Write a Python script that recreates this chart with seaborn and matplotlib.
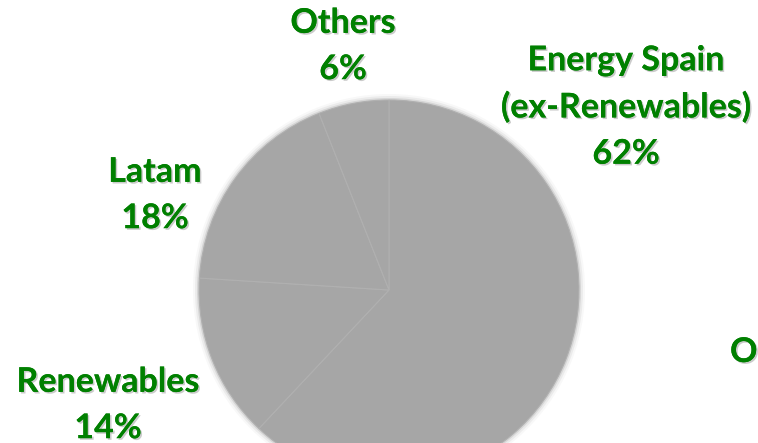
import matplotlib
matplotlib.use("Agg")
import matplotlib.pyplot as plt
import matplotlib.patheffects as pe
import seaborn as sns

categories = ["Energy Spain\n(ex-Renewables)", "Renewables", "Latam", "Others"]
shares = [62, 14, 18, 6]
label_text = ["Energy Spain\n(ex-Renewables)\n62%", "Renewables\n14%", "Latam\n18%", "Others\n6%"]

sns.set_theme(style="white")
plt.rcParams['font.family'] = ['Lato', 'DejaVu Sans']

fig = plt.figure(figsize=(7.58, 4.43), dpi=100)
ax = fig.add_axes([0, 0, 1, 1])

cx, cy, r = 389, 443 - 290, 190
gray = "#A6A6A6"

# soft blurred rim
for d, a in [(6, 0.08), (4, 0.15), (2, 0.3)]:
    ax.pie(shares, radius=r + d, center=(cx, cy), startangle=90, counterclock=False,
           colors=[gray] * len(shares), wedgeprops=dict(linewidth=0, alpha=a), frame=True)
ax.pie(shares, radius=r, center=(cx, cy), startangle=90, counterclock=False,
       colors=[gray] * len(shares),
       wedgeprops=dict(linewidth=0.8, edgecolor="#B0B0B0"), frame=True)
ax.set_xlim(0, 758)
ax.set_ylim(0, 443)
ax.axis("off")

green = "#008000"
shadow = [pe.withSimplePatchShadow(offset=(1.2, -1.2), shadow_rgbFace="#555555", alpha=0.3), pe.Normal()]
pos = {0: (626, 107), 1: (108, 405), 2: (155, 195), 3: (343, 46)}
for i, t in enumerate(label_text):
    x, y = pos[i]
    ax.text(x, 443 - y, t, ha="center", va="center", color=green, fontsize=24.5,
            fontweight="bold", linespacing=1.55, path_effects=shadow)

ax.text(730, 443 - 352, "O", ha="left", va="center", color=green, fontsize=24.5,
        fontweight="bold", path_effects=shadow)

fig.savefig("out.png", dpi=100)
